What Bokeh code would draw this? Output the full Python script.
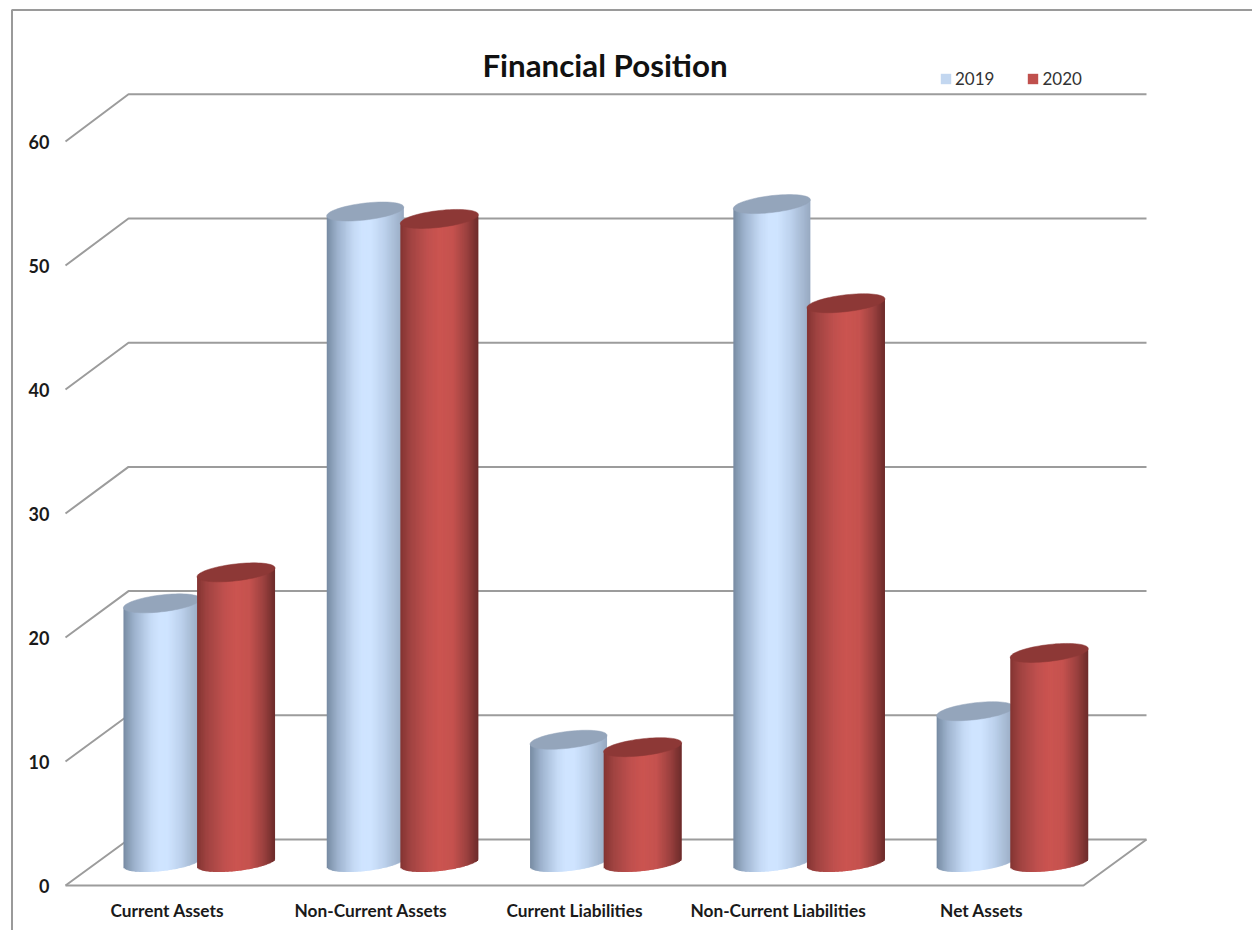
import numpy as np
from bokeh.plotting import figure
from bokeh.models import Range1d, FixedTicker, Legend, LegendItem, BoxAnnotation, LinearAxis, Label
from bokeh.embed import file_html
from bokeh.resources import INLINE

categories = ["Current Assets", "Non-Current Assets", "Current Liabilities", "Non-Current Liabilities", "Net Assets"]
values_2019 = [20.9, 52.5, 9.9, 53.1, 12.2]
values_2020 = [23.4, 51.9, 9.3, 45.1, 16.9]
y_ticks = [0, 10, 20, 30, 40, 50, 60]
title_text = "Financial Position"

W, H = 1252, 930
CAT_PX = 203.6
VAL_PX = 12.4
X0, Y0 = 65, 885
DX, DY = 63 / CAT_PX, 46 / VAL_PX
BACK_SCALE = 12.42 / 12.4
BAR_SPACING = 203.3 / 203.6
GRID = "#9c9c9c"
FONT = "Lato"

p = figure(
    width=W, height=H, output_backend="svg", toolbar_location=None,
    x_range=Range1d(-X0 / CAT_PX, (W - X0) / CAT_PX),
    y_range=Range1d((Y0 - H) / VAL_PX, Y0 / VAL_PX),
    min_border_left=0, min_border_right=0, min_border_top=0, min_border_bottom=0,
    x_axis_type=None, y_axis_type=None,
)
p.outline_line_color = None
p.grid.visible = False
p.background_fill_color = "white"
p.border_fill_color = "white"

centers = [i + 0.5 for i in range(len(categories))]

yax = LinearAxis(ticker=FixedTicker(ticks=y_ticks), fixed_location=-5 / CAT_PX)
yax.axis_line_color = None
yax.major_tick_line_color = None
yax.minor_tick_line_color = None
yax.major_tick_in = 0
yax.major_tick_out = 0
yax.major_label_standoff = 11
yax.major_label_text_font = FONT
yax.major_label_text_font_style = "bold"
yax.major_label_text_font_size = "18px"
yax.major_label_text_color = "#1a1a1a"
p.add_layout(yax, "left")

xax = LinearAxis(ticker=FixedTicker(ticks=centers), fixed_location=-8 / VAL_PX)
xax.major_label_overrides = {c: n for c, n in zip(centers, categories)}
xax.axis_line_color = None
xax.major_tick_line_color = None
xax.minor_tick_line_color = None
xax.major_tick_in = 0
xax.major_tick_out = 0
xax.major_label_standoff = 6
xax.major_label_text_font = FONT
xax.major_label_text_font_style = "bold"
xax.major_label_text_font_size = "17.3px"
xax.major_label_text_color = "#1a1a1a"
p.add_layout(xax, "below")

# outer picture frame
p.add_layout(BoxAnnotation(left=11.5, top=9.5, right=1400, bottom=1200,
                           left_units="canvas", right_units="canvas",
                           top_units="canvas", bottom_units="canvas",
                           fill_color=None, line_color="#9a9a9a", line_alpha=1.0,
                           line_width=2, level="underlay"))

p.add_layout(Label(x=(604.5 - X0) / CAT_PX, y=(Y0 - 64) / VAL_PX, text=title_text,
                   text_align="center", text_baseline="middle", text_font=FONT,
                   text_font_size="31.3px", text_font_style="bold", text_color="#111111"))

# 3-D walls
n = len(categories)
wall_x, wall_y = [], []
for v in y_ticks:
    wall_x.append([0, DX, n + DX])
    wall_y.append([v, v * BACK_SCALE + DY, v * BACK_SCALE + DY])
wall_x.append([0, n, n + DX])
wall_y.append([0, 0, DY])
p.multi_line(wall_x, wall_y, line_color=GRID, line_width=2)

STOPS_T = [-1, -0.72, -0.3, -0.08, 0.15, 0.5, 1]
BLUE = ["#778ba2", "#9db2cd", "#c5daf5", "#cfe4ff", "#cfe4ff", "#bcd1ec", "#97a9c1"]
STOPS_TR = [-1, -0.75, -0.3, 0, 0.35, 0.7, 1]
RED = ["#833432", "#a04341", "#c0504e", "#cb5450", "#c5524f", "#9c413f", "#6c2b2a"]


def colour(t, stops, cols):
    rgb = [[int(c[i:i + 2], 16) for i in (1, 3, 5)] for c in cols]
    return "#%02x%02x%02x" % tuple(int(round(np.interp(t, stops, [r[k] for r in rgb]))) for k in range(3))


def cylinders(values, offset, width_px, stops, cols, base_col, top_col):
    half = width_px / 2
    tilt_px, h_px = 4.35, 8.45
    off = offset + DX / 2
    xs = [0.5 + (c - 0.5) * BAR_SPACING + off for c in centers]
    base = DY / 2
    body = p.vbar(x=xs, width=0.7 * width_px / CAT_PX, bottom=[base] * n,
                  top=[v + base for v in values], fill_color=base_col, line_color=None)
    edges = np.linspace(-1, 1, 61)
    mids = (edges[:-1] + edges[1:]) / 2
    overlap = 1.0 / CAT_PX
    L, R, T, B, C = [], [], [], [], []
    for x, v in zip(xs, values):
        for k, (e0, e1, t) in enumerate(zip(edges[:-1], edges[1:], mids)):
            L.append(x + e0 * half / CAT_PX)
            R.append(x + e1 * half / CAT_PX + (overlap if k < len(mids) - 1 else 0))
            T.append(v + base + tilt_px * t / VAL_PX)
            B.append(base + (tilt_px * t - h_px * np.sqrt(1 - t * t)) / VAL_PX)
            C.append(colour(t, stops, cols))
    p.quad(left=L, right=R, top=T, bottom=B, fill_color=C, line_color=None)
    th = np.linspace(0, 2 * np.pi, 73)
    px, py = [], []
    for x, v in zip(xs, values):
        px.append(list(x + half * np.cos(th) / CAT_PX))
        py.append(list(v + base + (tilt_px * np.cos(th) + h_px * np.sin(th)) / VAL_PX))
    p.patches(px, py, fill_color=top_col, line_color=top_col, line_width=0.5)
    return body


b19 = cylinders(values_2019, -0.181, 77, STOPS_T, BLUE, "#c3d7f0", "#94a5bb")
b20 = cylinders(values_2020, 0.183, 78, STOPS_TR, RED, "#c0504d", "#8d3836")

legend = Legend(
    items=[LegendItem(label="2019", renderers=[b19]), LegendItem(label="2020", renderers=[b20])],
    orientation="horizontal",
    location=(939, H - 89),
    glyph_width=13, glyph_height=13, label_standoff=3, spacing=32, padding=0, margin=0,
    label_text_font=FONT, label_text_font_size="17px", label_text_color="#333333",
    background_fill_alpha=0, border_line_color=None,
)
p.add_layout(legend, "center")

open("out.html", "w").write(file_html(p, INLINE))
